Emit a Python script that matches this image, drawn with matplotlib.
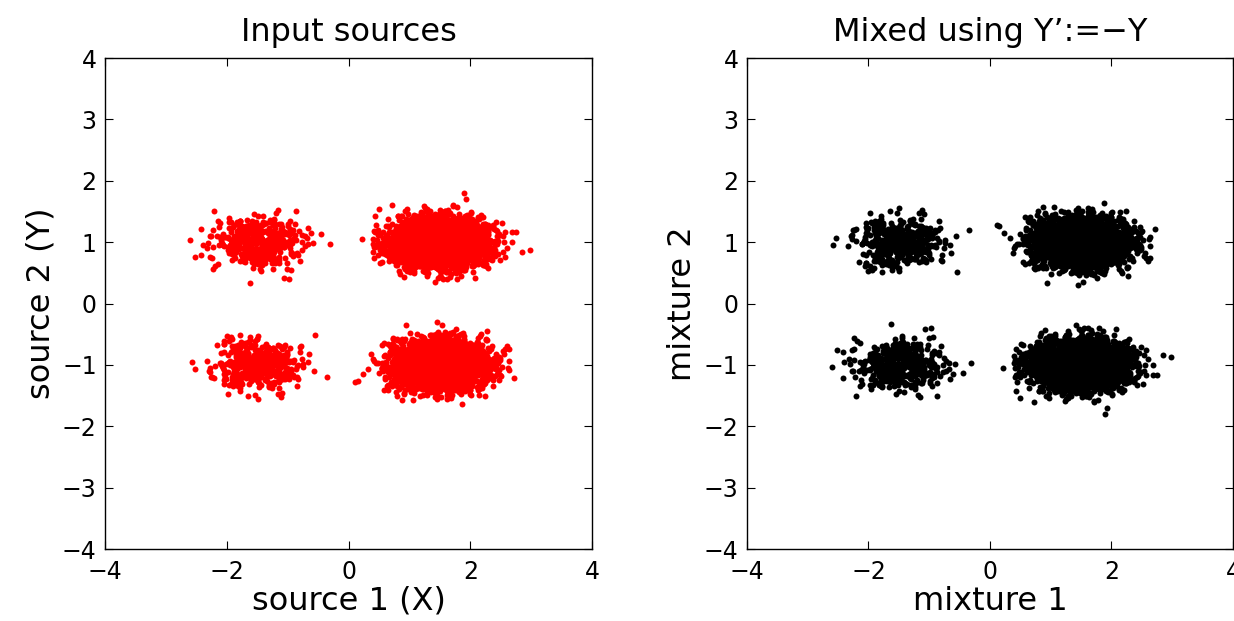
"""
Dos diagramas de dispersión: fuentes de entrada (X, Y) y su mezcla con Y' := -Y.

Salida: out.png (1234x621)
"""

import matplotlib
matplotlib.use("Agg")
import matplotlib.pyplot as plt
import numpy as np

# Parámetros de los cúmulos (centro, dispersión, nº de puntos)
CENTROS_X = [-1.5, -1.5, 1.5, 1.5]
CENTROS_Y = [1.0, -1.0, 1.0, -1.0]
DISP_X = [0.36, 0.36, 0.38, 0.38]
DISP_Y = [0.2, 0.2, 0.2, 0.2]
N_PUNTOS = [450, 450, 3000, 3000]
SEMILLA = 3

TICKS = [-4, -3, -2, -1, 0, 1, 2, 3, 4]
XTICKS = [-4, -2, 0, 2, 4]
TITULOS = ["Input sources", "Mixed using Y\u2019:=\u2212Y"]
XLABELS = ["source 1 (X)", "mixture 1"]
YLABELS = ["source 2 (Y)", "mixture 2"]
COLORES = ["#ff0000", "#000000"]

plt.rcParams["font.family"] = ["DejaVu Sans"]


def generar_fuentes():
    """Muestra las fuentes a partir de los parámetros de cada cúmulo."""
    rng = np.random.default_rng(SEMILLA)
    xs, ys = [], []
    for cx, cy, sx, sy, n in zip(CENTROS_X, CENTROS_Y, DISP_X, DISP_Y, N_PUNTOS):
        xs.append(rng.normal(cx, sx, n))
        ys.append(rng.normal(cy, sy, n))
    return np.concatenate(xs), np.concatenate(ys)


def main() -> None:
    x, y = generar_fuentes()
    datos = [(x, y), (x, -y)]   # mezcla: Y' := -Y

    fig = plt.figure(figsize=(12.34, 6.21), dpi=100)
    posiciones = [[0.0851, 0.1159, 0.3947, 0.7907],
                  [0.6053, 0.1159, 0.3938, 0.7907]]

    for i, pos in enumerate(posiciones):
        ax = fig.add_axes(pos)
        px, py = datos[i]
        ax.plot(px, py, "o", ms=4.3, mec="none", color=COLORES[i])
        ax.set_xlim(-4, 4)
        ax.set_ylim(-4, 4)
        ax.set_xticks(XTICKS)
        ax.set_yticks(TICKS)
        ax.tick_params(direction="in", length=5.5, width=0.8, labelsize=17,
                       top=True, right=True, pad=6)
        ax.tick_params(axis="x", pad=8)
        for s in ax.spines.values():
            s.set_linewidth(1.0)
        ax.set_title(TITULOS[i], fontsize=23, pad=12)
        ax.set_xlabel(XLABELS[i], fontsize=23, labelpad=1)
        ax.set_ylabel(YLABELS[i], fontsize=23, labelpad=4)

    fig.savefig("out.png", dpi=100)
    plt.close(fig)


if __name__ == "__main__":
    main()
